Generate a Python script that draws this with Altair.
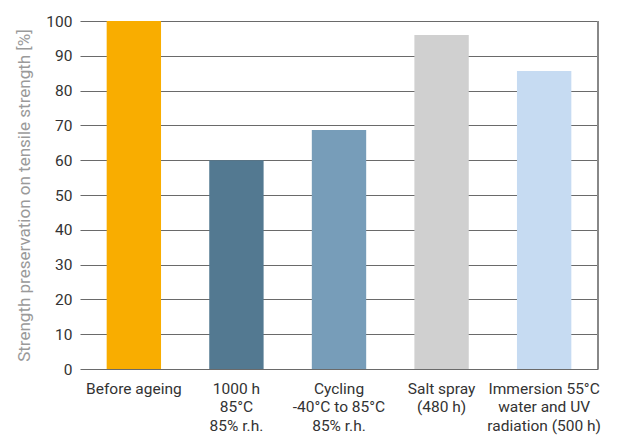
import altair as alt
import pandas as pd

categories = ["Before ageing", "1000 h|85°C|85% r.h.", "Cycling|-40°C to 85°C|85% r.h.",
              "Salt spray|(480 h)", "Immersion 55°C|water and UV|radiation (500 h)"]
values = [100, 60, 68.7, 96, 85.6]
colors = ["#F9AD00", "#537991", "#779DB9", "#D0D0D0", "#C6DBF2"]

df = pd.DataFrame({"cat": categories, "val": values, "col": colors})

W, H = 518, 348
FONT = "Roboto"

bars = alt.Chart(df).mark_bar().encode(
    x=alt.X("cat:N", sort=None,
            scale=alt.Scale(paddingInner=0.47, paddingOuter=0.26),
            axis=alt.Axis(title=None, labelAngle=0, ticks=False, domain=False,
                          labelExpr="split(datum.label, '|')",
                          labelFont=FONT, labelFontSize=15.5, labelColor="#333333",
                          labelPadding=12, labelLineHeight=18.5)),
    y=alt.Y("val:Q", scale=alt.Scale(domain=[0, 100]),
            axis=alt.Axis(title="Strength preservation on tensile strength [%]",
                          values=list(range(0, 101, 10)), ticks=False, domain=False,
                          grid=True, gridColor="#6a6a6a", gridWidth=1.2,
                          labelFont=FONT, labelFontSize=15.5, labelColor="#333333",
                          labelPadding=8, titleFont=FONT, titleFontSize=17,
                          titleFontWeight="normal", titleColor="#9a9a9a",
                          titlePadding=12)),
    color=alt.Color("col:N", scale=None),
)

border = alt.Chart(df).mark_rule(color="#888888", strokeWidth=1.5).encode(
    x=alt.value(W), y=alt.value(0), y2=alt.value(H)
)

chart = alt.layer(bars, border).properties(
    width=W, height=H,
    autosize=alt.AutoSizeParams(type="none"),
    padding={"left": 72, "top": 13, "right": 26, "bottom": 67},
).configure_view(stroke=None)

chart.save("out.html", embed_options={"renderer": "svg", "actions": False})
